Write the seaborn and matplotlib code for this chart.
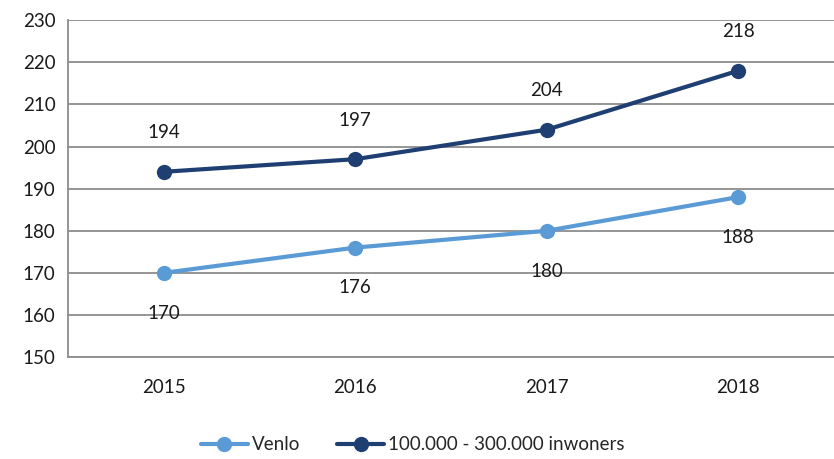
import pandas as pd
import matplotlib.pyplot as plt
import seaborn as sns
from matplotlib.ticker import FixedLocator

years = ["2015", "2016", "2017", "2018"]
venlo = [170, 176, 180, 188]
inwoners = [194, 197, 204, 218]
series_names = ["Venlo", "100.000 - 300.000 inwoners"]
colors = ["#5b9bd5", "#1f3f73"]

df = pd.DataFrame({
    "year": years * 2,
    "value": venlo + inwoners,
    "series": [series_names[0]] * 4 + [series_names[1]] * 4,
})
df["pos"] = df["year"].map({y: i for i, y in enumerate(years)})

sns.set_style("white")
plt.rcParams['font.family'] = ['Lato', 'DejaVu Sans']

fig = plt.figure(figsize=(8.34, 4.59), dpi=100)
ax = fig.add_axes([0.0815, 0.222, 0.9185, 0.734])

sns.lineplot(data=df, x="pos", y="value", hue="series", palette=colors,
             marker="o", markersize=11, linewidth=3, markeredgewidth=0,
             ax=ax, legend=True)

# data labels
for i, v in enumerate(inwoners):
    ax.annotate(str(v), (i, v), xytext=(0, 28), textcoords="offset points",
                ha="center", va="center", fontsize=13.5, color="#1a1a1a")
for i, v in enumerate(venlo):
    ax.annotate(str(v), (i, v), xytext=(0, -29), textcoords="offset points",
                ha="center", va="center", fontsize=13.5, color="#1a1a1a")

ax.set_xlim(-0.5, 3.5)
ax.set_ylim(150, 230)
ax.set_yticks(range(150, 231, 10))
ax.set_xticks(range(len(years)))
ax.set_xticklabels(years)
ax.xaxis.set_minor_locator(FixedLocator([-0.5, 0.5, 1.5, 2.5, 3.5]))
ax.tick_params(axis="x", which="major", length=0, labelsize=13.5, pad=16, colors="#1a1a1a")
ax.tick_params(axis="x", which="minor", length=6, width=1.2, color="#888888", direction="out")
ax.tick_params(axis="y", length=5, width=1.2, color="#888888", labelsize=13.5, pad=4)
for lab in ax.get_yticklabels():
    lab.set_color("#1a1a1a")
ax.grid(axis="y", color="#8c8c8c", linewidth=1.3)
ax.set_axisbelow(True)
ax.set_xlabel("")
ax.set_ylabel("")
for s in ["top", "right"]:
    ax.spines[s].set_visible(False)
ax.spines["left"].set_color("#8c8c8c")
ax.spines["left"].set_linewidth(1.3)
ax.spines["bottom"].set_color("#8c8c8c")
ax.spines["bottom"].set_linewidth(1.3)

handles, labels = ax.get_legend_handles_labels()
ax.legend(handles, labels, loc="center", bbox_to_anchor=(0.45, -0.26), ncol=2,
          frameon=False, fontsize=13.5, handlelength=2.5, columnspacing=2.0,
          handletextpad=0.2)

plt.savefig("out.png", dpi=100)
plt.close()
